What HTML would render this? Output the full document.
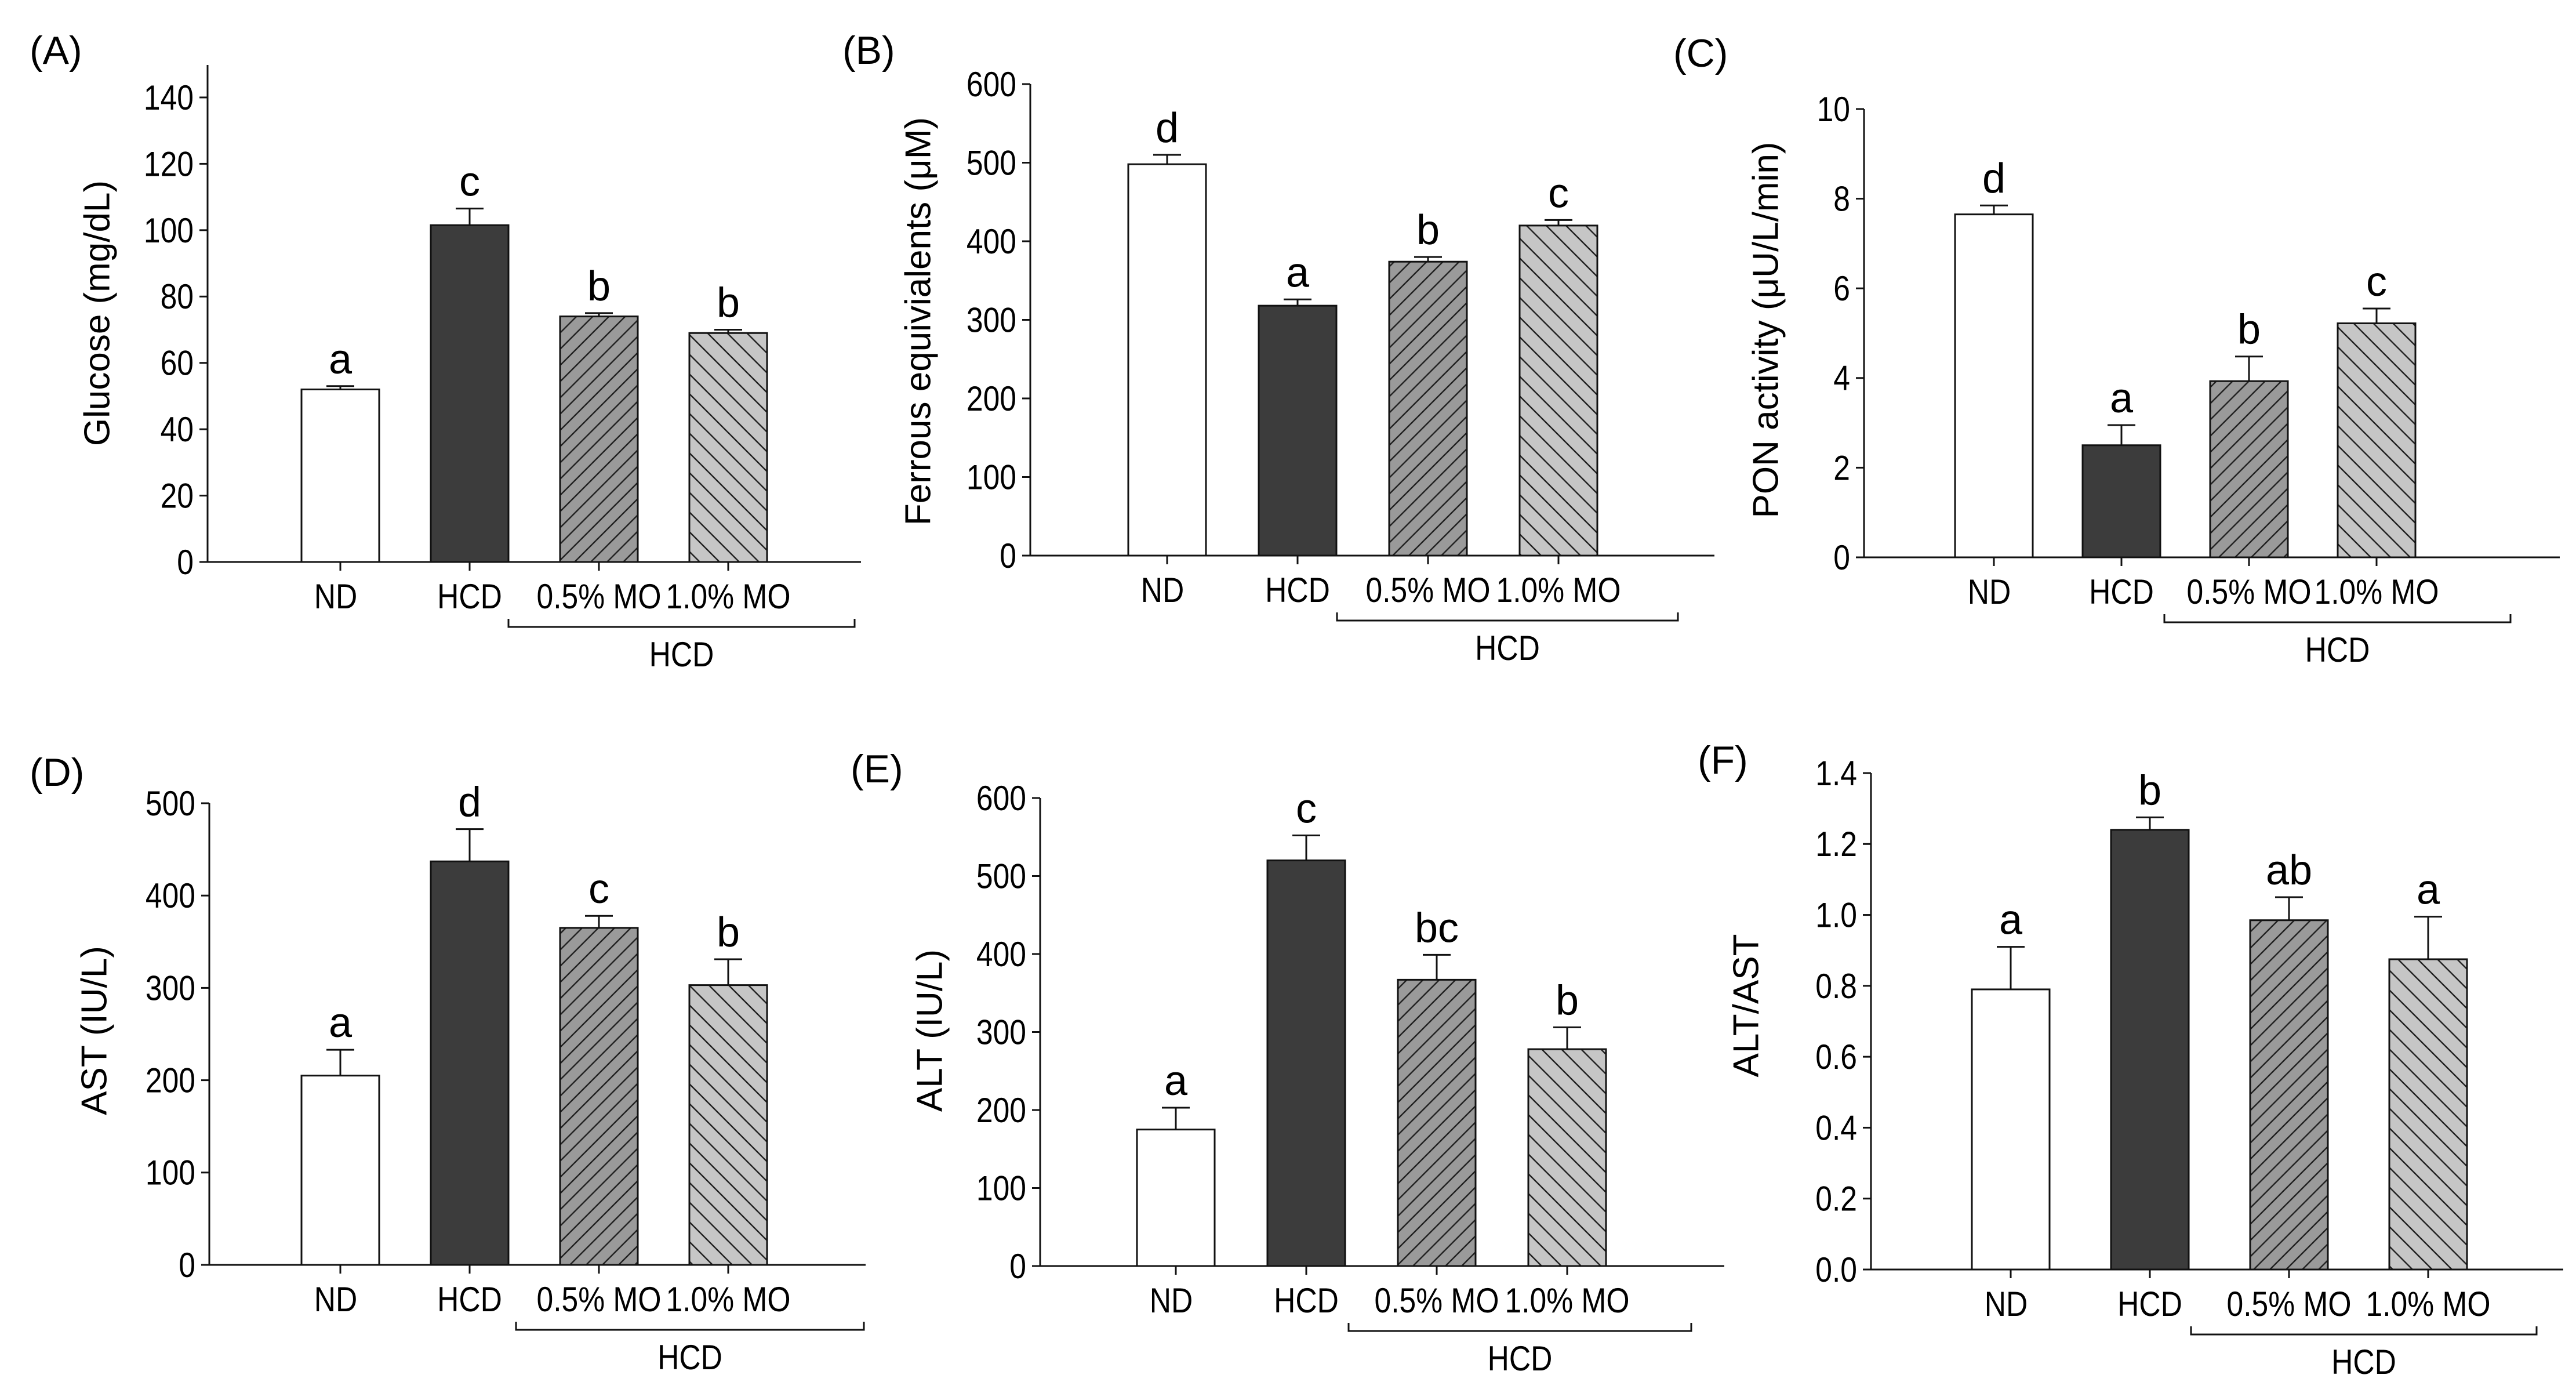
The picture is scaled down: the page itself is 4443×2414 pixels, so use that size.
<!DOCTYPE html>
<html><head><meta charset="utf-8"><style>
html,body{margin:0;padding:0;background:#fff;}
svg{display:block;font-family:"Liberation Sans",Arial,sans-serif;}
</style></head><body>
<svg id="fig" width="4443" height="2414" viewBox="0 0 4443 2414">
<defs>
<pattern id="hatchF" patternUnits="userSpaceOnUse" width="28" height="28">
<rect width="28" height="28" fill="#9a9a9a"/>
<path d="M-7,7 L7,-7 M0,28 L28,0 M21,35 L35,21" stroke="#222" stroke-width="2.5"/>
</pattern>
<pattern id="hatchB" patternUnits="userSpaceOnUse" width="34" height="34">
<rect width="34" height="34" fill="#c6c6c6"/>
<path d="M-8,-8 L8,8 M0,0 L34,34 M26,-8 L42,8 M-8,26 L8,42" stroke="#222" stroke-width="2.5"/>
</pattern>
</defs>
</svg>
<script>
const categories = ["ND","HCD","0.5% MO","1.0% MO"];
const glucoseValues = [52,101.5,74,69];
const glucoseErrors = [1,5,1,1];
const glucoseLetters = ["a","c","b","b"];
const glucoseTicks = [0,20,40,60,80,100,120,140];
const ferrousValues = [498,318,374,420];
const ferrousErrors = [12,8,6,7];
const ferrousLetters = ["d","a","b","c"];
const ferrousTicks = [0,100,200,300,400,500,600];
const ponValues = [7.65,2.5,3.93,5.22];
const ponErrors = [0.2,0.45,0.55,0.33];
const ponLetters = ["d","a","b","c"];
const ponTicks = [0,2,4,6,8,10];
const astValues = [205,437,365,303];
const astErrors = [28,35,13,28];
const astLetters = ["a","d","c","b"];
const astTicks = [0,100,200,300,400,500];
const altValues = [175,520,367,278];
const altErrors = [28,32,32,28];
const altLetters = ["a","c","bc","b"];
const altTicks = [0,100,200,300,400,500,600];
const ratioValues = [0.79,1.24,0.985,0.875];
const ratioErrors = [0.12,0.035,0.065,0.12];
const ratioLetters = ["a","b","ab","a"];
const ratioTicks = [0,0.2,0.4,0.6,0.8,1.0,1.2,1.4];
const ratioTickLabels = ["0.0","0.2","0.4","0.6","0.8","1.0","1.2","1.4"];

const panels = [
 {id:"a",label:"(A)",lx:51,ly:110,title:"Glucose (mg/dL)",tx:168,ty:540,ax:358,top:112,y0:969,yTop:168,max:140,xEnd:1485,c0:587,step:223,br:[877,1474],vals:glucoseValues,errs:glucoseErrors,lets:glucoseLetters,ticks:glucoseTicks},
 {id:"b",label:"(B)",lx:1453,ly:110,title:"Ferrous equivialents (\u03bcM)",tx:1584,ty:554,ax:1777,top:145,y0:958,yTop:145,max:600,xEnd:2957,c0:2013,step:225,br:[2306,2894],vals:ferrousValues,errs:ferrousErrors,lets:ferrousLetters,ticks:ferrousTicks},
 {id:"c",label:"(C)",lx:2886,ly:115,title:"PON activity (\u03bcU/L/min)",tx:3046,ty:569,ax:3215,top:188,y0:961,yTop:188,max:10,xEnd:4415,c0:3439,step:220,br:[3733,4330],vals:ponValues,errs:ponErrors,lets:ponLetters,ticks:ponTicks},
 {id:"d",label:"(D)",lx:51,ly:1355,title:"AST (IU/L)",tx:163,ty:1777,ax:361,top:1385,y0:2181,yTop:1385,max:500,xEnd:1493,c0:587,step:223,br:[890,1490],vals:astValues,errs:astErrors,lets:astLetters,ticks:astTicks},
 {id:"e",label:"(E)",lx:1467,ly:1349,title:"ALT (IU/L)",tx:1604,ty:1777,ax:1794,top:1376,y0:2183,yTop:1376,max:600,xEnd:2974,c0:2028,step:225,br:[2326,2917],vals:altValues,errs:altErrors,lets:altLetters,ticks:altTicks},
 {id:"f",label:"(F)",lx:2928,ly:1334,title:"ALT/AST",tx:3012,ty:1734,ax:3227,top:1333,y0:2189,yTop:1333,max:1.4,xEnd:4421,c0:3468,step:240,br:[3779,4375],vals:ratioValues,errs:ratioErrors,lets:ratioLetters,ticks:ratioTicks,tickLabels:ratioTickLabels}
];
const fills = ["#ffffff","#3c3c3c","url(#hatchF)","url(#hatchB)"];
const svg = document.getElementById('fig');
const NS = "http://www.w3.org/2000/svg";
function mk(tag, attrs, parent, text){
  const e = document.createElementNS(NS, tag);
  for (const k in attrs) e.setAttribute(k, attrs[k]);
  if (text !== undefined) e.textContent = text;
  parent.appendChild(e);
  return e;
}
function condensed(parent, x, y, size, anchor, str, baseline){
  const attrs = {x:0, y:0, 'font-size':size, 'text-anchor':anchor, transform:`translate(${x},${y}) scale(0.86,1)`};
  if (baseline) attrs['dominant-baseline'] = baseline;
  return mk('text', attrs, parent, str);
}
panels.forEach(p => {
  const g = mk('g', {}, svg);
  
  
  const yScale = v => p.y0 - (v / p.max) * (p.y0 - p.yTop);
  const xScale = i => p.c0 + i * p.step;
  const lab = mk('text', {x:p.lx, y:p.ly, 'font-size':68, fill:'#000'}, g, p.label);
  
  
  const yt = mk('text', {x:p.tx, y:p.ty, 'font-size':62, 'text-anchor':'middle', transform:`rotate(-90 ${p.tx} ${p.ty})`, 'dominant-baseline':'central'}, g, p.title);
  
  
  p.vals.forEach((v, i) => {
    const cx = xScale(i), yv = yScale(v), w = 134;
    const bar = mk('rect', {x:cx - w/2, y:yv, width:w, height:p.y0 - yv, fill:fills[i], stroke:'#111', 'stroke-width':3}, g);
    
    
    const ye = yScale(v + p.errs[i]);
    const eb = mk('path', {d:`M${cx},${yv} L${cx},${ye} M${cx-24},${ye} L${cx+24},${ye}`, stroke:'#111', 'stroke-width':3, fill:'none'}, g);
    
    
    const lt = mk('text', {x:cx, y:ye - 22, 'font-size':72, 'text-anchor':'middle'}, g, p.lets[i]);
    
    
    const tk = mk('line', {x1:cx, x2:cx, y1:p.y0, y2:p.y0 + 15, stroke:'#111', 'stroke-width':3}, g);
    
    
    const cl = condensed(g, cx - (i===0?8:0), p.y0 + 80, 60, 'middle', categories[i]);
    
    
  });
  const ya = mk('line', {x1:p.ax, x2:p.ax, y1:p.top, y2:p.y0, stroke:'#111', 'stroke-width':3}, g);
  
  
  const xa = mk('line', {x1:p.ax - 12, x2:p.xEnd, y1:p.y0, y2:p.y0, stroke:'#111', 'stroke-width':3}, g);
  
  
  p.ticks.forEach((t, k) => {
    const y = yScale(t);
    const tl = mk('line', {x1:p.ax - 14, x2:p.ax, y1:y, y2:y, stroke:'#111', 'stroke-width':3}, g);
    
    
    const tx = condensed(g, p.ax - 24, y, 60, 'end', p.tickLabels ? p.tickLabels[k] : String(t), 'central');
    
    
  });
  const by = p.y0 + 112;
  const br = mk('path', {d:`M${p.br[0]},${by-14} L${p.br[0]},${by} L${p.br[1]},${by} L${p.br[1]},${by-14}`, stroke:'#111', 'stroke-width':3, fill:'none'}, g);
  
  
  const bt = condensed(g, (p.br[0]+p.br[1])/2, by + 68, 60, 'middle', 'HCD');
  
  
});
</script>
</body></html>
